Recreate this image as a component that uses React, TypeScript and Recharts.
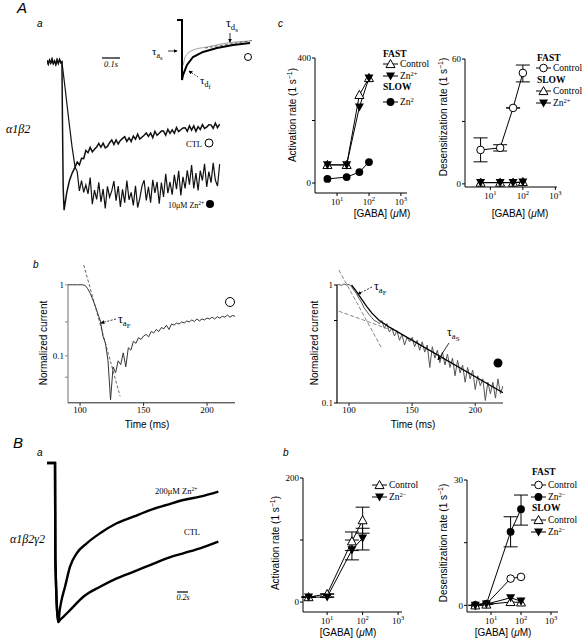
import React from "react";
import { LineChart, Line, XAxis, YAxis, ErrorBar, ReferenceLine } from "recharts";

const SERIF = "'Liberation Serif', 'Times New Roman', serif";
const SANS = "'Liberation Sans', Arial, sans-serif";

// ---------- A a : alpha1beta2 traces (time ms, current normalised to CTL peak)
const aBaseT = [0, 7, 14, 21, 28, 35, 42, 49, 56, 63, 70, 77, 83];
const aBaseI = [0.01, -0.015, 0.012, -0.008, 0.018, -0.012, 0.006, -0.018, 0.014, -0.01, 0.016, -0.006, 0];
const aCtlOnT = [86, 90, 95, 100, 110, 125, 140, 156];
const aCtlOnI = [-0.4, -0.85, -1.0, -0.96, -0.88, -0.8, -0.75, -0.71];
const aZnOnT = [100, 120, 139, 156];
const aZnOnI = [-0.17, -0.38, -0.57, -0.71];
const aNoiseT = [
  168, 180, 192, 204, 216, 228, 240, 252, 264, 276, 288, 300, 312, 324, 336, 348, 360, 372, 384, 396,
  408, 420, 432, 444, 456, 468, 480, 492, 504, 516, 528, 540, 552, 564, 576, 588, 600, 612, 624, 636,
  648, 660, 672, 684, 696, 708, 720, 732, 744, 756, 768, 780, 792, 804, 816, 828, 840, 852, 864, 876,
  888, 900, 912, 924, 936, 948, 960,
];
const aCtlI = [
  -0.675, -0.695, -0.65, -0.652, -0.598, -0.613, -0.577, -0.607, -0.59, -0.574, -0.55, -0.576, -0.549, -0.58,
  -0.57, -0.545, -0.527, -0.558, -0.527, -0.554, -0.53, -0.516, -0.505, -0.536, -0.513, -0.537, -0.5, -0.522,
  -0.488, -0.52, -0.508, -0.495, -0.48, -0.502, -0.48, -0.511, -0.468, -0.495, -0.482, -0.467, -0.467, -0.495,
  -0.455, -0.482, -0.459, -0.482, -0.443, -0.47, -0.458, -0.446, -0.444, -0.468, -0.432, -0.46, -0.432, -0.468,
  -0.437, -0.456, -0.423, -0.449, -0.44, -0.424, -0.425, -0.449, -0.413, -0.444, -0.42,
];
const aZnI = [
  -0.74, -0.87, -0.8, -0.88, -0.83, -0.89, -0.78, -0.96, -0.865, -0.928, -0.812, -0.945, -0.857, -0.989,
  -0.84, -0.912, -0.87, -0.804, -0.936, -0.837, -0.978, -0.86, -0.95, -0.8, -0.93, -0.88, -0.968, -0.835,
  -0.982, -0.92, -0.838, -0.798, -0.935, -0.842, -0.949, -0.796, -0.883, -0.81, -0.957, -0.814, -0.911, -0.755,
  -0.885, -0.81, -0.896, -0.762, -0.858, -0.734, -0.9, -0.776, -0.854, -0.731, -0.828, -0.696, -0.854, -0.75,
  -0.867, -0.734, -0.8, -0.687, -0.844, -0.74, -0.815, -0.681, -0.797, -0.838, -0.69,
];

// inset (arbitrary time units)
const insetBlackT = [0, 50, 50, 60, 100, 160, 260, 400, 560, 730];
const insetBlackI = [0, 0, -1.0, -0.917, -0.75, -0.617, -0.533, -0.467, -0.417, -0.383];
const insetGreyT = [50, 60, 80, 160, 300, 500, 730];
const insetGreyI = [-0.6, -0.75, -0.62, -0.5, -0.45, -0.383, -0.35];
const insetFitT = [280, 750];
const insetFitI = [-0.467, -0.342];

// ---------- A b : normalised current vs time (ms), log scale
const bTimes = [
  90, 92, 94, 96, 98, 100, 102, 104, 106, 108, 110, 112, 114, 116, 118, 120, 122, 124, 126, 128,
  130, 132, 134, 136, 138, 140, 142, 144, 146, 148, 150, 152, 154, 156, 158, 160, 162, 164, 166, 168,
  170, 172, 174, 176, 178, 180, 182, 184, 186, 188, 190, 192, 194, 196, 198, 200, 202, 204, 206, 208,
  210, 212, 214, 216, 218, 220, 222,
];
const bCtlNorm = [
  1.0, 1.0, 1.0, 1.0, 1.0, 1.0, 1.0, 0.98, 0.88, 0.76, 0.62, 0.5, 0.39, 0.31, 0.19, 0.15, 0.085, 0.024, 0.07, 0.058,
  0.085, 0.075, 0.11, 0.07, 0.13, 0.12, 0.16, 0.15, 0.18, 0.17, 0.19, 0.2, 0.185, 0.22, 0.21, 0.235, 0.22, 0.25, 0.24, 0.27,
  0.235, 0.28, 0.27, 0.29, 0.28, 0.3, 0.29, 0.31, 0.3, 0.32, 0.305, 0.33, 0.31, 0.33, 0.32, 0.34, 0.33, 0.35, 0.33, 0.355,
  0.34, 0.36, 0.35, 0.375, 0.35, 0.37, 0.36,
];
const bCtlFitT = [102.9, 131.5];
const bCtlFitV = [1.9, 0.027];
const bZnNorm = [
  1.0, 1.01, 0.99, 1.02, 1.0, 1.01, 0.97, 0.9, 0.84, 0.77, 0.71, 0.64, 0.6, 0.56, 0.53, 0.5, 0.49, 0.47, 0.5, 0.43,
  0.47, 0.4, 0.43, 0.37, 0.41, 0.34, 0.38, 0.31, 0.36, 0.33, 0.36, 0.3, 0.34, 0.28, 0.33, 0.27, 0.31, 0.2, 0.3, 0.24,
  0.28, 0.22, 0.27, 0.21, 0.26, 0.2, 0.24, 0.17, 0.23, 0.18, 0.21, 0.15, 0.2, 0.16, 0.19, 0.13, 0.17, 0.14, 0.16, 0.105,
  0.15, 0.12, 0.15, 0.11, 0.16, 0.12, 0.14,
];
const bZnFitT = [102, 106, 110, 114, 118, 124, 132, 222];
const bZnFitV = [1.0, 0.88, 0.76, 0.66, 0.58, 0.5, 0.44, 0.122];
const bZnFastT = [92, 126];
const bZnFastV = [1.34, 0.29];
const bZnSlowT = [92, 132];
const bZnSlowV = [0.6, 0.42];

// ---------- A c : rates vs [GABA]
const gabaTicks = [10, 100, 1000];
const gabaTickExp = ["1", "2", "3"];
const aConc = [5, 20, 50, 100];
const aActFastCtl = [58, 58, 282, 336];
const aActFastZn = [58, 58, 243, 336];
const aActSlowZn = [13, 19, 35, 67];
const aDesFastCtl = [16.3, 17.3, 36.5, 53.3];
const aDesFastCtlErr = [[5.7, 5.8], [1.5, 1.5], [0, 0], [4.3, 3.8]];
const aDesSlowCtl = [0.6, 0.6, 0.6, 0.9];
const aDesSlowZn = [0.6, 0.6, 0.6, 0.9];

// ---------- B a : alpha1beta2gamma2 traces (time ms)
const baZnT = [0, 146, 152, 206, 230, 260, 328, 419, 540, 723, 965, 1269, 1571, 1875, 2179, 2481, 2785, 3118];
const baZnI = [0, 0, -0.6, -1.0, -0.93, -0.87, -0.778, -0.652, -0.568, -0.505, -0.442, -0.379, -0.338, -0.296, -0.264, -0.233, -0.212, -0.18];
const baCtlT = [0, 146, 152, 206, 240, 297, 419, 661, 965, 1269, 1571, 1875, 2179, 2481, 2785, 3118];
const baCtlI = [0, 0, -0.6, -1.0, -0.985, -0.967, -0.925, -0.841, -0.778, -0.725, -0.684, -0.642, -0.6, -0.568, -0.537, -0.495];

// ---------- B b : rates vs [GABA]
const bActConc = [3, 10, 50, 100];
const bActCtl = [8, 13, 98, 132];
const bActCtlErr = [[0, 0], [0, 0], [15, 15], [21, 21]];
const bActZn = [8, 8, 84, 103];
const bActZnErr = [[0, 0], [0, 0], [16, 16], [19, 16]];
const bDesConc = [3, 7, 45, 100];
const bDesFastCtl = [0, 0.3, 6.4, 6.8];
const bDesFastZn = [0, 0.3, 17.6, 23];
const bDesFastZnErr = [[0, 0], [0, 0], [3.6, 3.6], [3.8, 3.4]];
const bDesSlowCtl = [0, 0.2, 0.8, 0.7];
const bDesSlowZn = [0, 0.3, 1.8, 1.0];

type Pt = { t: number; v: number };
const zip = (ts: number[], vs: number[]): Pt[] => ts.map((t, k) => ({ t, v: vs[k] }));

type TraceSeries = { data: Pt[]; stroke?: string; width?: number; dash?: string; curve?: "linear" | "monotone" };

function TracePanel(props: {
  left: number; top: number; width: number; height: number;
  xDomain: [number, number]; yDomain: [number, number]; series: TraceSeries[];
}) {
  const { left, top, width, height, xDomain, yDomain, series } = props;
  return (
    <div style={{ position: "absolute", left, top }}>
      <LineChart width={width} height={height} margin={{ top: 0, right: 0, bottom: 0, left: 0 }}>
        <XAxis type="number" dataKey="t" domain={xDomain} allowDataOverflow hide />
        <YAxis type="number" domain={yDomain} allowDataOverflow hide />
        {series.map((s, k) => (
          <Line key={k} data={s.data} dataKey="v" type={s.curve ?? "linear"} stroke={s.stroke ?? "#000"}
            strokeWidth={s.width ?? 1} strokeDasharray={s.dash} dot={false} isAnimationActive={false} />
        ))}
      </LineChart>
    </div>
  );
}

function DecayPanel(props: {
  left: number; top: number; right: number; bottom: number; yDomain: [number, number];
  yTicks: number[]; yLabels: string[]; axisColor: string; series: TraceSeries[];
}) {
  const { left, top, right, bottom, yDomain, yTicks, yLabels, axisColor, series } = props;
  const padL = 26, padT = 2, padR = 4, padB = 22;
  const w = right - left, h = bottom - top;
  return (
    <div style={{ position: "absolute", left: left - padL, top: top - padT }}>
      <LineChart width={w + padL + padR} height={h + padT + padB} margin={{ top: padT, right: padR, bottom: 0, left: 0 }}>
        <XAxis type="number" dataKey="t" domain={[90.5, 222]} allowDataOverflow ticks={[100, 150, 200]} interval={0}
          height={padB} tickSize={3} tickMargin={1} stroke="#222"
          tick={{ fontSize: 9, fontFamily: SERIF, fill: "#000" }} />
        <YAxis type="number" scale="log" domain={yDomain} allowDataOverflow ticks={yTicks} interval={0}
          tickFormatter={(_v: number, i: number) => yLabels[i]} width={padL} tickSize={3} tickMargin={1}
          axisLine={false} stroke={axisColor} tick={{ fontSize: 9, fontFamily: SERIF, fill: "#000" }} />
        <ReferenceLine segment={[{ x: 90.5, y: yDomain[0] }, { x: 90.5, y: 1 }]} stroke={axisColor} strokeWidth={1.2} ifOverflow="visible" />
        {series.map((s, k) => (
          <Line key={k} data={s.data} dataKey="v" type="linear" stroke={s.stroke ?? "#000"}
            strokeWidth={s.width ?? 1} strokeDasharray={s.dash} dot={false} isAnimationActive={false} />
        ))}
      </LineChart>
    </div>
  );
}

type MarkerKind = "openTri" | "fillDown" | "fillCircle" | "openCircle";

function Marker({ cx, cy, kind }: { cx: number; cy: number; kind: MarkerKind }) {
  const s = 4.5;
  if (kind === "openTri")
    return <polygon points={`${cx},${cy - s} ${cx + s},${cy + s * 0.8} ${cx - s},${cy + s * 0.8}`} fill="#fff" stroke="#000" strokeWidth={1} />;
  if (kind === "fillDown")
    return <polygon points={`${cx},${cy + s} ${cx + s},${cy - s * 0.8} ${cx - s},${cy - s * 0.8}`} fill="#000" />;
  if (kind === "fillCircle") return <circle cx={cx} cy={cy} r={3.9} fill="#000" />;
  return <circle cx={cx} cy={cy} r={3.8} fill="#fff" stroke="#000" strokeWidth={1} />;
}

function PowTick(props: any) {
  const { x, y, index } = props;
  return (
    <text x={x} y={y + 7} textAnchor="middle" fontFamily={SERIF} fontSize={9} fill="#000">
      10<tspan dy={-4} fontSize={6.5}>{gabaTickExp[index]}</tspan>
    </text>
  );
}

type RateSeries = { x: number[]; y: number[]; err?: number[][]; marker: MarkerKind };

function RateChart(props: {
  left: number; top: number; right: number; bottom: number;
  xDomain: [number, number]; yDomain: [number, number]; yTicks: number[]; yLabels: string[]; series: RateSeries[];
}) {
  const { left, top, right, bottom, xDomain, yDomain, yTicks, yLabels, series } = props;
  const padL = 26, padT = 6, padR = 6, padB = 22;
  const w = right - left, h = bottom - top;
  return (
    <div style={{ position: "absolute", left: left - padL, top: top - padT }}>
      <LineChart width={w + padL + padR} height={h + padT + padB} margin={{ top: padT, right: padR, bottom: 0, left: 0 }}>
        <XAxis type="number" dataKey="x" scale="log" domain={xDomain} allowDataOverflow ticks={gabaTicks} interval={0}
          height={padB} tickSize={3} stroke="#000" tick={(p: any) => <PowTick {...p} />} />
        <YAxis type="number" domain={yDomain} allowDataOverflow ticks={yTicks} interval={0}
          tickFormatter={(_v: number, i: number) => yLabels[i]} width={padL} tickSize={3} tickMargin={1} stroke="#000"
          tick={{ fontSize: 9, fontFamily: SERIF, fill: "#000" }} />
        {series.map((s, k) => (
          <Line key={k} data={s.x.map((x, j) => ({ x, y: s.y[j], e: s.err ? s.err[j] : [0, 0] }))} dataKey="y"
            type="linear" stroke="#000" strokeWidth={1} isAnimationActive={false}
            dot={(p: any) => <Marker key={`m${k}-${p.index}`} cx={p.cx} cy={p.cy} kind={s.marker} />}>
            {s.err ? <ErrorBar dataKey="e" width={7} stroke="#000" strokeWidth={1} direction="y" /> : null}
          </Line>
        ))}
      </LineChart>
    </div>
  );
}

function Tau({ x, y, a, b, size = 12 }: { x: number; y: number; a: string; b: string; size?: number }) {
  return (
    <text x={x} y={y} fontFamily={SERIF} fontSize={size} fill="#000">
      τ<tspan dy={3} fontSize={size * 0.72}>{a}</tspan><tspan dy={2} fontSize={size * 0.58}>{b}</tspan>
    </text>
  );
}

function LegendRow({ x, y, kind, label, sup }: { x: number; y: number; kind: MarkerKind; label: string; sup?: string }) {
  return (
    <g>
      <line x1={x} y1={y} x2={x + 15} y2={y} stroke="#000" strokeWidth={1} />
      <Marker cx={x + 7.5} cy={y} kind={kind} />
      <text x={x + 17} y={y + 3} fontFamily={SERIF} fontSize={9.5} fill="#000">
        {label}{sup ? <tspan dy={-3.5} fontSize={6.5}>{sup}</tspan> : null}
      </text>
    </g>
  );
}

function Overlay() {
  const it = { fontFamily: SANS, fontStyle: "italic" as const, fill: "#000" };
  const lab = { fontFamily: SANS, fontSize: 10, fill: "#000" };
  const ser = { fontFamily: SERIF, fill: "#000" };
  return (
    <svg width={585} height={644} style={{ position: "absolute", left: 0, top: 0, pointerEvents: "none" }}>
      <defs>
        <marker id="ah" viewBox="0 0 6 6" refX="5" refY="3" markerWidth="5" markerHeight="5" orient="auto">
          <path d="M0,0 L6,3 L0,6 z" fill="#000" />
        </marker>
      </defs>
      {/* panel letters */}
      <text x={17} y={13} fontSize={15} {...it}>A</text>
      <text x={37} y={27} fontSize={10} {...it}>a</text>
      <text x={278} y={27} fontSize={10} {...it}>c</text>
      <text x={33} y={268} fontSize={10} {...it}>b</text>
      <text x={13} y={448} fontSize={15} {...it}>B</text>
      <text x={37} y={456} fontSize={10} {...it}>a</text>
      <text x={283} y={456} fontSize={10} {...it}>b</text>

      {/* A a annotations */}
      <line x1={102} y1={58} x2={120} y2={58} stroke="#000" strokeWidth={1.2} />
      <text x={111} y={67} textAnchor="middle" fontSize={8.5} fontStyle="italic" {...ser}>0.1s</text>
      <text x={6} y={133} fontSize={12} fontStyle="italic" {...ser}>α1β2</text>
      <text x={186} y={147} fontSize={8.5} {...ser}>CTL</text>
      <circle cx={209} cy={143} r={4} fill="#fff" stroke="#000" />
      <text x={168} y={208} fontSize={8} {...ser}>10μM Zn<tspan dy={-3} fontSize={5.5}>2+</tspan></text>
      <circle cx={210} cy={204} r={4} fill="#000" />
      {/* inset labels */}
      <Tau x={226} y={27} a="d" b="s" size={12} />
      <line x1={230} y1={33} x2={230} y2={42} stroke="#000" strokeWidth={0.8} markerEnd="url(#ah)" />
      <Tau x={152} y={55} a="a" b="s" size={11} />
      <line x1={168} y1={51} x2={177} y2={51} stroke="#000" strokeWidth={0.8} markerEnd="url(#ah)" />
      <Tau x={200} y={84} a="d" b="f" size={11} />
      <line x1={198} y1={77} x2={189} y2={71} stroke="#000" strokeWidth={0.8} strokeDasharray="1.5 1.5" markerEnd="url(#ah)" />
      <circle cx={248} cy={57} r={3.5} fill="#fff" stroke="#000" />

      {/* A b annotations */}
      <text transform="translate(47,343) rotate(-90)" textAnchor="middle" {...lab}>Normalized current</text>
      <text transform="translate(318,343) rotate(-90)" textAnchor="middle" {...lab}>Normalized current</text>
      <text x={147} y={428} textAnchor="middle" {...lab}>Time (ms)</text>
      <text x={413} y={428} textAnchor="middle" {...lab}>Time (ms)</text>
      <Tau x={118} y={323} a="a" b="F" size={12} />
      <line x1={116} y1={319} x2={101} y2={323} stroke="#000" strokeWidth={0.8} strokeDasharray="2 1.5" markerEnd="url(#ah)" />
      <circle cx={230} cy={302} r={4.5} fill="#fff" stroke="#000" />
      <Tau x={374} y={290} a="a" b="F" size={12} />
      <line x1={372} y1={287} x2={358} y2={294} stroke="#000" strokeWidth={0.8} strokeDasharray="2 1.5" markerEnd="url(#ah)" />
      <Tau x={447} y={336} a="a" b="S" size={12} />
      <line x1={449} y1={343} x2={438} y2={360} stroke="#000" strokeWidth={0.8} markerEnd="url(#ah)" />
      <circle cx={498} cy={363} r={4.5} fill="#000" />

      {/* A c annotations */}
      <text transform="translate(296,115) rotate(-90)" textAnchor="middle" {...lab}>Activation rate (1 s<tspan dy={-4} fontSize={7}>−1</tspan><tspan dy={4}>)</tspan></text>
      <text transform="translate(447,117) rotate(-90)" textAnchor="middle" {...lab}>Desensitization rate (1 s<tspan dy={-4} fontSize={7}>−1</tspan><tspan dy={4}>)</tspan></text>
      <text x={382} y={217} textAnchor="middle" {...lab}>[GABA] (<tspan fontStyle="italic">μ</tspan>M)</text>
      <text x={520} y={217} textAnchor="middle" {...lab}>[GABA] (<tspan fontStyle="italic">μ</tspan>M)</text>
      <text x={383} y={57} fontSize={9.5} fontWeight="bold" {...ser}>FAST</text>
      <LegendRow x={383} y={64} kind="openTri" label="Control" />
      <LegendRow x={383} y={76} kind="fillDown" label="Zn" sup="2+" />
      <text x={383} y={90} fontSize={9.5} fontWeight="bold" {...ser}>SLOW</text>
      <LegendRow x={383} y={102} kind="fillCircle" label="Zn" sup="2" />
      <text x={537} y={61} fontSize={9.5} fontWeight="bold" {...ser}>FAST</text>
      <LegendRow x={536} y={68} kind="openCircle" label="Control" />
      <text x={537} y={83} fontSize={9.5} fontWeight="bold" {...ser}>SLOW</text>
      <LegendRow x={536} y={91} kind="openTri" label="Control" />
      <LegendRow x={536} y={103} kind="fillDown" label="Zn" sup="2+" />

      {/* B a annotations */}
      <text x={10} y={543} fontSize={12} fontStyle="italic" {...ser}>α1β2γ2</text>
      <text x={155} y={494} fontSize={8.5} {...ser}>200μM Zn<tspan dy={-3} fontSize={5.5}>2+</tspan></text>
      <text x={184} y={535} fontSize={8.5} {...ser}>CTL</text>
      <line x1={177} y1={592} x2={188} y2={592} stroke="#000" strokeWidth={1.2} />
      <text x={183} y={600} textAnchor="middle" fontSize={8} fontStyle="italic" {...ser}>0.2s</text>

      {/* B b annotations */}
      <text transform="translate(279,543) rotate(-90)" textAnchor="middle" {...lab}>Activation rate (1 s<tspan dy={-4} fontSize={7}>−1</tspan><tspan dy={4}>)</tspan></text>
      <text transform="translate(447,543) rotate(-90)" textAnchor="middle" {...lab}>Desensitization rate (1 s<tspan dy={-4} fontSize={7}>−1</tspan><tspan dy={4}>)</tspan></text>
      <text x={348} y={636} textAnchor="middle" {...lab}>[GABA] (<tspan fontStyle="italic">μ</tspan>M)</text>
      <text x={503} y={636} textAnchor="middle" {...lab}>[GABA] (<tspan fontStyle="italic">μ</tspan>M)</text>
      <LegendRow x={372} y={485} kind="openTri" label="Control" />
      <LegendRow x={372} y={497} kind="fillDown" label="Zn" sup="2−" />
      <text x={532} y={475} fontSize={9.5} fontWeight="bold" {...ser}>FAST</text>
      <LegendRow x={531} y={485} kind="openCircle" label="Control" />
      <LegendRow x={531} y={497} kind="fillCircle" label="Zn" sup="2−" />
      <text x={532} y={511} fontSize={9.5} fontWeight="bold" {...ser}>SLOW</text>
      <LegendRow x={531} y={520} kind="openTri" label="Control" />
      <LegendRow x={531} y={532} kind="fillDown" label="Zn" sup="2−" />
    </svg>
  );
}

export default function App() {
  const aBase = zip(aBaseT, aBaseI);
  const aCtl = [...aBase, ...zip(aCtlOnT, aCtlOnI), ...zip(aNoiseT, aCtlI)];
  const aZn = [...aBase, ...zip(aZnOnT, aZnOnI), ...zip(aNoiseT, aZnI)];

  return (
    <div style={{ position: "absolute", left: 0, top: 0, width: 585, height: 644, background: "#fff", overflow: "hidden" }}>
      {/* A a traces */}
      <TracePanel left={47} top={47} width={175} height={178} xDomain={[0, 973]} yDomain={[-1.1, 0.1]}
        series={[
          { data: aZn, stroke: "#111", width: 1.2 },
          { data: aCtl, stroke: "#111", width: 1.5 },
        ]} />
      <TracePanel left={177} top={14} width={75} height={69} xDomain={[0, 750]} yDomain={[-1.05, 0.1]}
        series={[
          { data: zip(insetGreyT, insetGreyI), stroke: "#888", width: 0.8, curve: "monotone" },
          { data: zip(insetFitT, insetFitI), stroke: "#444", width: 0.8, dash: "3 2" },
          { data: zip(insetBlackT, insetBlackI), stroke: "#000", width: 2 },
        ]} />

      {/* A b */}
      <DecayPanel left={68} top={265.2} right={235} bottom={403} yDomain={[0.0218, 1.9]}
        yTicks={[0.05, 0.1, 0.3, 1]} yLabels={["", "0.1", "", "1"]} axisColor="#888"
        series={[
          { data: zip(bCtlFitT, bCtlFitV), stroke: "#555", width: 0.9, dash: "3 2" },
          { data: zip(bTimes, bCtlNorm), stroke: "#333", width: 1 },
        ]} />
      <DecayPanel left={337} top={270} right={503} bottom={403} yDomain={[0.1, 1.34]}
        yTicks={[0.1, 0.5, 1]} yLabels={["0.1", "", "1"]} axisColor="#000"
        series={[
          { data: zip(bZnFastT, bZnFastV), stroke: "#777", width: 0.9, dash: "4 2" },
          { data: zip(bZnSlowT, bZnSlowV), stroke: "#777", width: 0.9, dash: "4 2" },
          { data: zip(bTimes, bZnNorm), stroke: "#555", width: 1 },
          { data: zip(bZnFitT, bZnFitV), stroke: "#000", width: 1.3 },
        ]} />

      {/* A c */}
      <RateChart left={315} top={58} right={407} bottom={193} xDomain={[2.04, 1549]} yDomain={[-32, 400]}
        yTicks={[0, 200, 400]} yLabels={["0", "", "400"]}
        series={[
          { x: aConc, y: aActSlowZn, marker: "fillCircle" },
          { x: aConc, y: aActFastCtl, marker: "openTri" },
          { x: aConc, y: aActFastZn, marker: "fillDown" },
        ]} />
      <RateChart left={465} top={59} right={557} bottom={187} xDomain={[1.66, 1122]} yDomain={[-1.5, 60]}
        yTicks={[0, 30, 60]} yLabels={["0", "", "60"]}
        series={[
          { x: aConc, y: aDesFastCtl, err: aDesFastCtlErr, marker: "openCircle" },
          { x: aConc, y: aDesSlowCtl, marker: "openTri" },
          { x: aConc, y: aDesSlowZn, marker: "fillDown" },
        ]} />

      {/* B a traces */}
      <TracePanel left={47} top={455} width={172} height={175} xDomain={[0, 3130]} yDomain={[-1.05, 0.05]}
        series={[
          { data: zip(baCtlT, baCtlI), stroke: "#000", width: 2.4, curve: "monotone" },
          { data: zip(baZnT, baZnI), stroke: "#000", width: 2.4, curve: "monotone" },
        ]} />

      {/* B b */}
      <RateChart left={303} top={478} right={402} bottom={612} xDomain={[2.09, 1288]} yDomain={[-16, 200]}
        yTicks={[0, 100, 200]} yLabels={["0", "", "200"]}
        series={[
          { x: bActConc, y: bActCtl, err: bActCtlErr, marker: "openTri" },
          { x: bActConc, y: bActZn, err: bActZnErr, marker: "fillDown" },
        ]} />
      <RateChart left={467} top={480} right={558} bottom={612} xDomain={[1.585, 1711]} yDomain={[-1.6, 30]}
        yTicks={[0, 15, 30]} yLabels={["0", "", "30"]}
        series={[
          { x: bDesConc, y: bDesFastCtl, marker: "openCircle" },
          { x: bDesConc, y: bDesFastZn, err: bDesFastZnErr, marker: "fillCircle" },
          { x: bDesConc, y: bDesSlowCtl, marker: "openTri" },
          { x: bDesConc, y: bDesSlowZn, marker: "fillDown" },
        ]} />

      <Overlay />
    </div>
  );
}
